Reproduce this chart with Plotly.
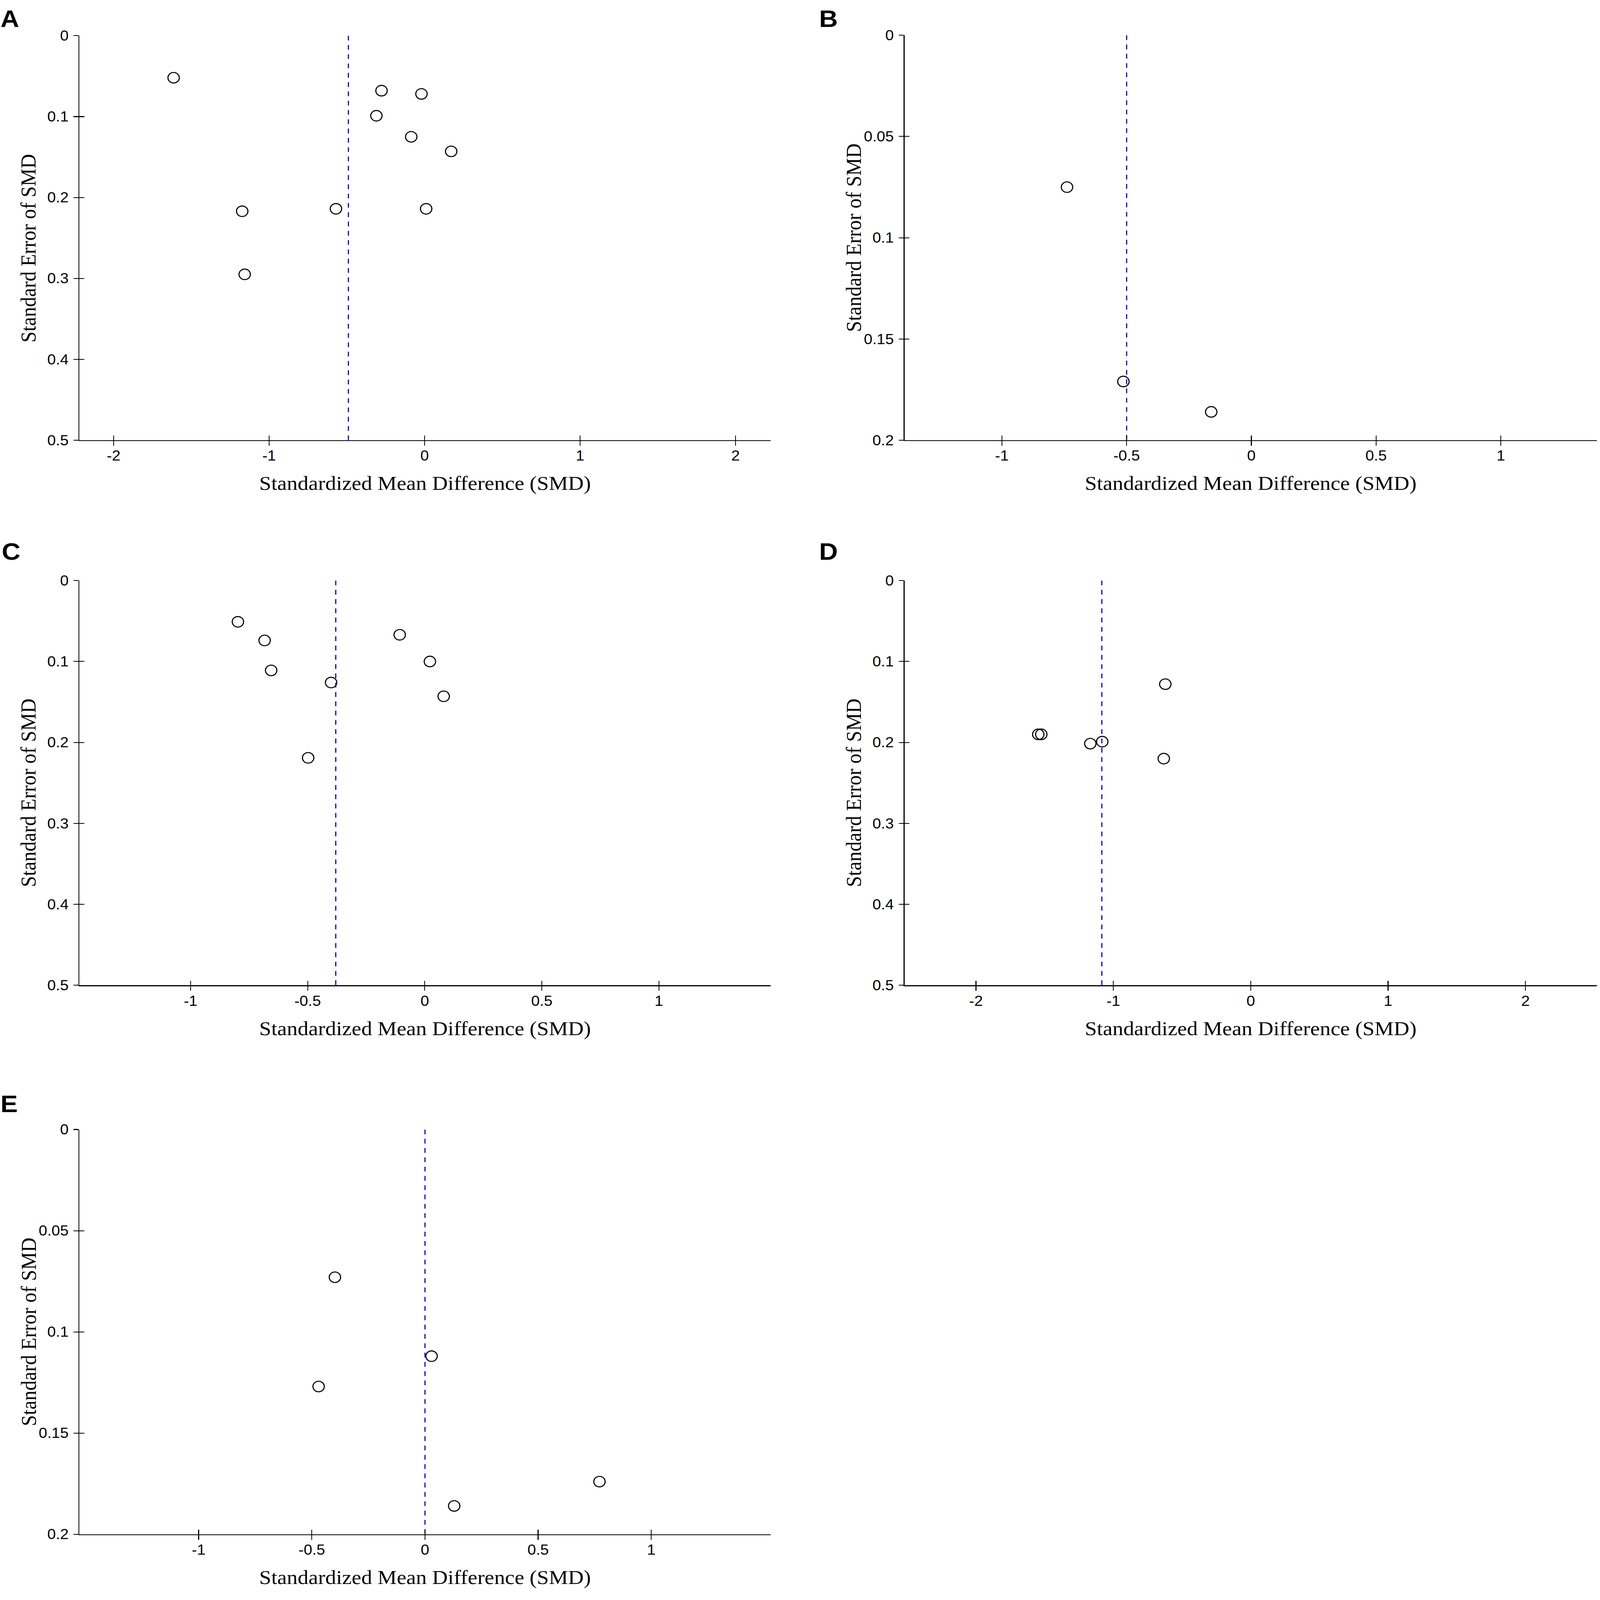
import plotly.graph_objects as go

W, H = 7174, 7745

# --- values (SMD, standard error of SMD) ---
smd_a = [-1.614, -0.277, -0.020, -0.310, -0.086, 0.171, -1.173, -0.570, 0.010, -1.157]
se_a = [0.052, 0.068, 0.072, 0.099, 0.125, 0.143, 0.217, 0.214, 0.214, 0.295]

smd_b = [-0.739, -0.513, -0.161]
se_b = [0.075, 0.171, 0.186]

smd_c = [-0.798, -0.684, -0.656, -0.400, -0.107, 0.022, 0.081, -0.498]
se_c = [0.051, 0.074, 0.111, 0.126, 0.067, 0.100, 0.143, 0.219]

smd_d = [-0.622, -1.547, -1.525, -1.168, -1.081, -0.633]
se_d = [0.128, 0.190, 0.190, 0.2015, 0.199, 0.220]

smd_e = [-0.398, 0.029, -0.470, 0.771, 0.129]
se_e = [0.073, 0.112, 0.127, 0.174, 0.186]

# pooled estimate (dashed blue line) per panel
pooled_smd = [-0.49, -0.50, -0.38, -1.084, 0.0]

panel_labels = ["A", "B", "C", "D", "E"]
se_max = [0.5, 0.2, 0.5, 0.5, 0.2]
x_ranges = [[-2.22, 2.225], [-1.39, 1.385], [-1.475, 1.477], [-2.52, 2.52], [-1.527, 1.527]]

ticks_2 = [-2, -1, 0, 1, 2]
ticks_1 = [-1, -0.5, 0, 0.5, 1]
x_tickvals = [ticks_2, ticks_1, ticks_1, ticks_2, ticks_1]
x_ticktext = [[str(v) for v in t] for t in x_tickvals]

se_ticks_5 = [0, 0.1, 0.2, 0.3, 0.4, 0.5]
se_ticks_2 = [0, 0.05, 0.1, 0.15, 0.2]
y_tickvals = [se_ticks_5, se_ticks_2, se_ticks_5, se_ticks_5, se_ticks_2]
y_ticktext = [["0" if v == 0 else f"{v:g}" for v in t] for t in y_tickvals]

smd_all = [smd_a, smd_b, smd_c, smd_d, smd_e]
se_all = [se_a, se_b, se_c, se_d, se_e]

# plot areas in pixels: left, right, top, bottom
boxes = [
    (356, 3455, 136, 2114),
    (4056, 7160, 134, 2114),
    (356, 3455, 2800, 4779),
    (4056, 7160, 2800, 4779),
    (356, 3455, 5484, 7463),
]
ytitle_shift = [-50, 0, -48, -48, 0]
letter_pos = [(0, 96), (3671, 96), (6, 2701), (3671, 2701), (0, 5402)]

TICK_FONT = dict(family="Liberation Sans, Arial, sans-serif", size=69, color="black")
TITLE_FONT = dict(family="Liberation Serif, Times New Roman, serif", size=97, color="black")
BLUE = "#0000C0"

fig = go.Figure()
layout = dict(
    width=W, height=H,
    margin=dict(l=0, r=0, t=0, b=0),
    paper_bgcolor="white", plot_bgcolor="white",
    showlegend=False,
)
annotations = []

for i in range(5):
    n = i + 1
    ov = i + 6
    sx = "" if n == 1 else str(n)
    xa, ya = "x" + sx, "y" + sx
    left, right, top, bottom = boxes[i]
    xdom = [left / W, right / W]
    ydom = [1 - bottom / H, 1 - top / H]

    # pooled estimate line
    fig.add_trace(go.Scatter(
        x=[pooled_smd[i], pooled_smd[i]], y=[0, se_max[i]],
        mode="lines", line=dict(color=BLUE, width=5, dash="23px,22px"),
        xaxis=xa, yaxis=ya, hoverinfo="skip",
    ))
    # studies
    fig.add_trace(go.Scatter(
        x=smd_all[i], y=se_all[i], mode="markers",
        marker=dict(symbol="circle-open", size=51, color="black",
                    line=dict(width=5, color="black")),
        xaxis=xa, yaxis=ya, cliponaxis=False,
    ))
    # empty trace so the overlay axes (inner half of ticks) get drawn
    fig.add_trace(go.Scatter(x=[], y=[], xaxis=f"x{ov}", yaxis=f"y{ov}",
                             hoverinfo="skip"))

    common = dict(showgrid=False, zeroline=False, fixedrange=True)
    layout["xaxis" + sx] = dict(
        domain=xdom, anchor=ya, range=x_ranges[i],
        tickmode="array", tickvals=x_tickvals[i], ticktext=x_ticktext[i],
        showline=True, linecolor="black", linewidth=4.5,
        ticks="outside", ticklen=22, tickwidth=4, tickcolor="black",
        tickfont=TICK_FONT, ticklabelstandoff=-10, **common,
    )
    layout["yaxis" + sx] = dict(
        domain=ydom, anchor=xa, range=[se_max[i], 0],
        tickmode="array", tickvals=y_tickvals[i], ticktext=y_ticktext[i],
        showline=True, linecolor="black", linewidth=4.5,
        ticks="outside", ticklen=22, tickwidth=4, tickcolor="black",
        tickfont=TICK_FONT, ticklabelstandoff=8, **common,
    )
    layout[f"xaxis{ov}"] = dict(
        overlaying=xa, anchor=f"y{ov}", range=x_ranges[i], side="bottom",
        tickmode="array", tickvals=x_tickvals[i], showticklabels=False,
        showline=False, ticks="inside", ticklen=22, tickwidth=4,
        tickcolor="black", **common,
    )
    layout[f"yaxis{ov}"] = dict(
        overlaying=ya, anchor=f"x{ov}", range=[se_max[i], 0], side="left",
        tickmode="array", tickvals=y_tickvals[i], showticklabels=False,
        showline=False, ticks="inside", ticklen=22, tickwidth=4,
        tickcolor="black", **common,
    )

    # axis titles
    annotations.append(dict(
        text="Standardized Mean Difference (SMD)", font=TITLE_FONT,
        xref=f"{xa} domain", yref=f"{ya} domain", x=0.5, y=0,
        xanchor="center", yanchor="top", yshift=-153, showarrow=False,
    ))
    annotations.append(dict(
        text="Standard Error of SMD", font=TITLE_FONT, textangle=-90,
        xref=f"{xa} domain", yref=f"{ya} domain", x=0, y=0.5,
        xanchor="right", yanchor="middle", xshift=-173,
        yshift=ytitle_shift[i], showarrow=False,
    ))
    # panel letter
    lx, lb = letter_pos[i]
    annotations.append(dict(
        text=f"<b>{panel_labels[i]}</b>",
        font=dict(family="Liberation Sans, Arial, sans-serif", size=116, color="black"),
        xref="paper", yref="paper", x=lx / W, y=1 - (lb + 25) / H,
        xanchor="left", yanchor="bottom", showarrow=False,
    ))

layout["annotations"] = annotations
fig.update_layout(**layout)

# the browser window may be smaller than the figure: stretch the figure to fill it
fit_js = """
var gd = document.getElementById('{plot_id}');
var sx = Math.min(1, window.innerWidth / %d);
var sy = Math.min(1, window.innerHeight / %d);
document.documentElement.style.margin = '0';
document.documentElement.style.overflow = 'hidden';
document.body.style.margin = '0';
document.body.style.overflow = 'hidden';
gd.style.transformOrigin = '0 0';
gd.style.transform = 'scale(' + sx + ',' + sy + ')';
""" % (W, H)

fig.write_html("out.html", post_script=fit_js,
               config={"displayModeBar": False, "staticPlot": True})
